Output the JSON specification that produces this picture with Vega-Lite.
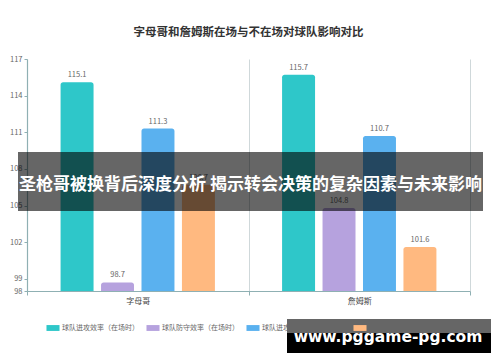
{
  "$schema": "https://vega.github.io/schema/vega-lite/v6.json",
  "width": 443,
  "height": 232,
  "autosize": {"type": "none"},
  "padding": {"left": 27, "top": 59, "right": 30, "bottom": 71},
  "background": "white",
  "config": {
    "font": "Noto Sans CJK SC",
    "view": {"stroke": null},
    "axis": {"labelOverlap": false}
  },
  "title": {
    "text": "字母哥和詹姆斯在场与不在场对球队影响对比",
    "fontSize": 11.5,
    "fontWeight": "bold",
    "color": "#333333",
    "offset": 17,
    "anchor": "middle"
  },
  "datasets": {
    "main": [
      {"player": "字母哥", "metric": "球队进攻效率（在场时）", "value": 115.1},
      {"player": "字母哥", "metric": "球队防守效率（在场时）", "value": 98.7},
      {"player": "字母哥", "metric": "球队进攻效率（不在场时）", "value": 111.3},
      {"player": "字母哥", "metric": "球队防守效率（不在场时）", "value": 106.7},
      {"player": "詹姆斯", "metric": "球队进攻效率（在场时）", "value": 115.7},
      {"player": "詹姆斯", "metric": "球队防守效率（在场时）", "value": 104.8},
      {"player": "詹姆斯", "metric": "球队进攻效率（不在场时）", "value": 110.7},
      {"player": "詹姆斯", "metric": "球队防守效率（不在场时）", "value": 101.6}
    ],
    "banner": [
      {"text": "圣枪哥被换背后深度分析 揭示转会决策的复杂因素与未来影响"}
    ],
    "mark": [
      {"text": "www.pggame-pg.com"}
    ]
  },
  "layer": [
    {
      "data": {"name": "main"},
      "encoding": {
        "x": {
          "field": "player", "type": "nominal", "sort": ["字母哥", "詹姆斯"],
          "scale": {"paddingInner": 0, "paddingOuter": 0},
          "axis": {
            "title": null, "labelAngle": 0, "labelFontSize": 8, "labelColor": "#444444",
            "domainColor": "#8fb0b3", "domainWidth": 1.2, "tickColor": "#8fb0b3",
            "tickBand": "extent", "tickSize": 4, "labelPadding": 2,
            "grid": true, "gridColor": "#cfd8da", "gridWidth": 1
          }
        },
        "xOffset": {
          "field": "metric", "type": "nominal",
          "sort": ["球队进攻效率（在场时）", "球队防守效率（在场时）", "球队进攻效率（不在场时）", "球队防守效率（不在场时）"],
          "scale": {"paddingInner": 0.185, "paddingOuter": 0.83}
        },
        "y": {
          "field": "value", "type": "quantitative",
          "scale": {"domain": [98, 117], "nice": false, "zero": false},
          "axis": {
            "title": null, "values": [98, 99, 102, 105, 108, 111, 114, 117],
            "labelFontSize": 7.5, "labelColor": "#666666", "grid": false,
            "labelOverlap": false, "labelSeparation": 0, "labelBound": false,
            "domainColor": "#8fb0b3", "domainWidth": 1.2, "tickColor": "#8fb0b3", "tickSize": 3, "labelPadding": 2
          }
        }
      },
      "layer": [
        {
          "mark": {"type": "bar", "cornerRadiusTopLeft": 2.5, "cornerRadiusTopRight": 2.5},
          "encoding": {
            "y2": {"datum": 98},
            "color": {
              "field": "metric", "type": "nominal",
              "sort": ["球队进攻效率（在场时）", "球队防守效率（在场时）", "球队进攻效率（不在场时）", "球队防守效率（不在场时）"],
              "scale": {"range": ["#2ec7c9", "#b6a2de", "#5ab1ef", "#ffb980"]},
              "legend": {
                "title": null, "orient": "none", "direction": "horizontal",
                "legendX": 19, "legendY": 262,
                "labelFontSize": 7, "labelColor": "#666666",
                "symbolType": "M-1,-0.45H1V0.45H-1Z", "symbolSize": 170, "symbolStrokeWidth": 0,
                "symbolOpacity": 1, "columnPadding": 7, "labelOffset": 2, "labelLimit": 200
              }
            }
          }
        },
        {
          "mark": {"type": "text", "dy": -3, "fontSize": 7.5, "color": "#666666", "baseline": "bottom"},
          "encoding": {
            "text": {"field": "value", "type": "quantitative", "format": ".1f"}
          }
        }
      ]
    },
    {
      "data": {"name": "banner"},
      "mark": {"type": "rect", "color": "black", "opacity": 0.6},
      "encoding": {
        "x": {"value": -9},
        "x2": {"value": 456},
        "y": {"value": 93},
        "y2": {"value": 152}
      }
    },
    {
      "data": {"name": "banner"},
      "mark": {"type": "text", "color": "white", "fontSize": 17, "fontWeight": "bold", "align": "center", "baseline": "middle"},
      "encoding": {
        "x": {"value": 223.5},
        "y": {"value": 126},
        "text": {"field": "text", "type": "nominal"}
      }
    },
    {
      "data": {"name": "mark"},
      "mark": {"type": "rect", "color": "black", "opacity": 0.6},
      "encoding": {
        "x": {"value": 260},
        "x2": {"value": 464},
        "y": {"value": 260},
        "y2": {"value": 274}
      }
    },
    {
      "data": {"name": "mark"},
      "mark": {"type": "rect", "color": "black", "opacity": 1},
      "encoding": {
        "x": {"value": 260},
        "x2": {"value": 464},
        "y": {"value": 274},
        "y2": {"value": 294}
      }
    },
    {
      "data": {"name": "mark"},
      "mark": {"type": "text", "color": "white", "fontSize": 15.5, "fontWeight": "bold", "align": "center", "baseline": "middle", "font": "DejaVu Sans"},
      "encoding": {
        "x": {"value": 361},
        "y": {"value": 278},
        "text": {"field": "text", "type": "nominal"}
      }
    }
  ]
}
